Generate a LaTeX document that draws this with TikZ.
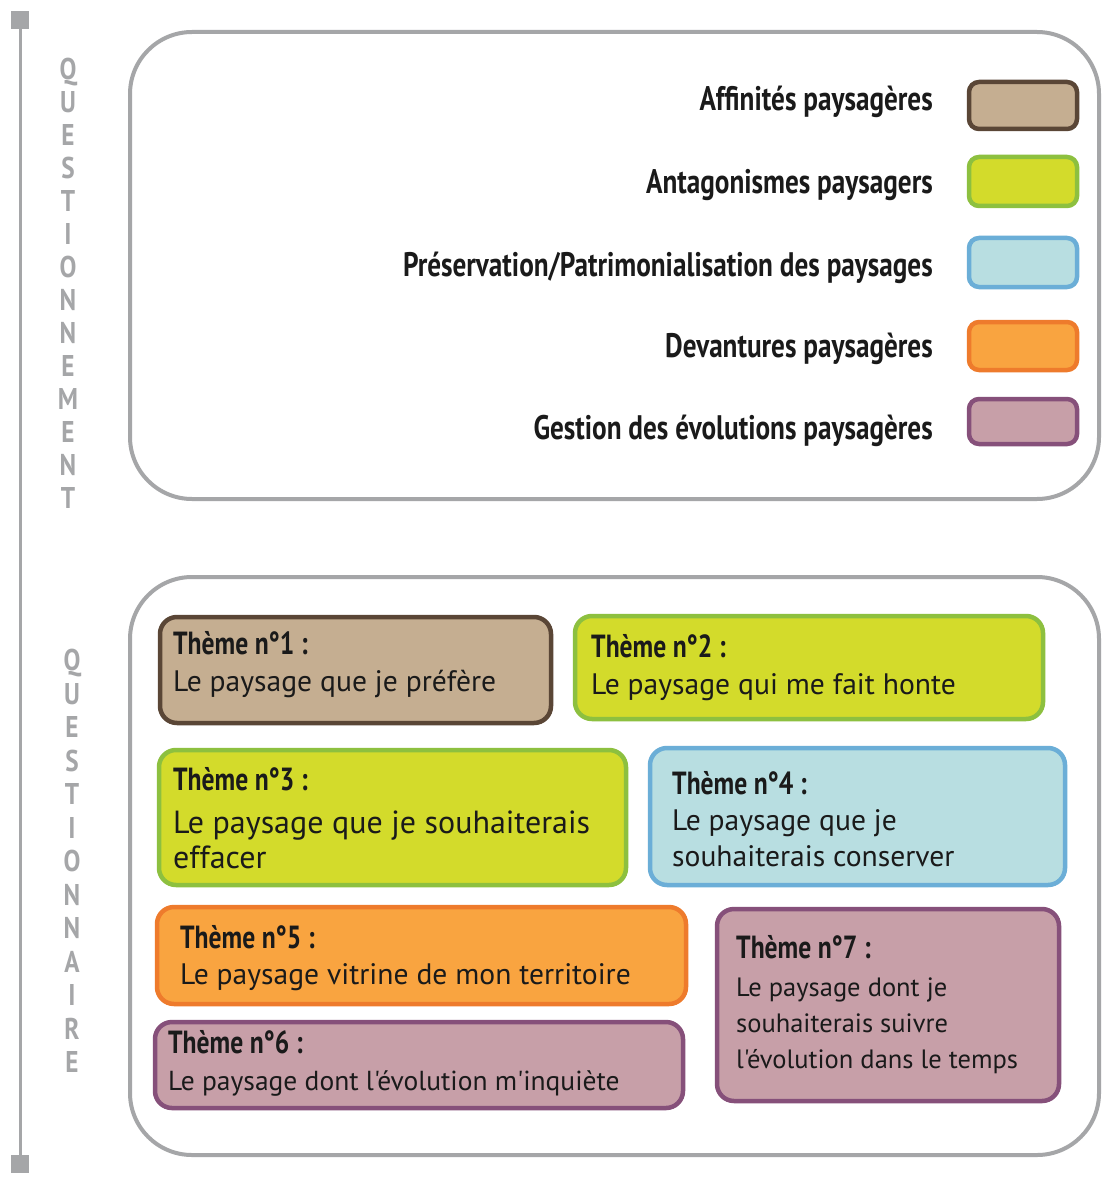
\documentclass[tikz,border=0pt]{standalone}
\usepackage{fontspec}
\setmainfont{PT Sans}
\newfontfamily\bodyf{PT Sans}
\newfontfamily\condf[FakeStretch=0.8]{PT Sans}
\newfontfamily\vletf[FakeStretch=0.84]{PT Sans}
\definecolor{lgray}{HTML}{A5A6A8}
\definecolor{brnF}{HTML}{C5AE91}
\definecolor{brnD}{HTML}{5A4636}
\definecolor{grnF}{HTML}{D3DB2B}
\definecolor{grnD}{HTML}{8DC03F}
\definecolor{bluF}{HTML}{B8DEE1}
\definecolor{bluD}{HTML}{6BAED7}
\definecolor{orgF}{HTML}{F9A440}
\definecolor{orgD}{HTML}{EE7B2C}
\definecolor{purF}{HTML}{C79FA8}
\definecolor{purD}{HTML}{86507A}
\definecolor{txt}{HTML}{1A1A1A}
\tikzset{
  outerbox/.style={rectangle, draw=lgray, line width=4pt, rounded corners=62pt, inner sep=0},
  tbox/.style={rectangle, rounded corners=17pt, line width=4.5pt, inner sep=0},
  swatch/.style={rectangle, rounded corners=10pt, line width=4.5pt, inner sep=0, minimum width=108pt},
  sqr/.style={rectangle, fill=lgray, minimum size=18pt, inner sep=0},
  vlet/.style={text=lgray, font=\vletf\bfseries\fontsize{30}{30}\selectfont, text height=21pt, text depth=0pt, inner sep=0},
  legtxt/.style={anchor=base east, inner sep=0, text=txt, font=\condf\bfseries\fontsize{34}{34}\selectfont},
  head/.style={anchor=base west, inner sep=0, text=txt, font=\condf\bfseries\fontsize{32}{32}\selectfont},
  body/.style={anchor=base west, inner sep=0, text=txt, font=\bodyf\fontsize{29.6}{29.6}\selectfont},
  bigbody/.style={anchor=base west, inner sep=0, text=txt, font=\bodyf\fontsize{32}{32}\selectfont},
  sixbody/.style={anchor=base west, inner sep=0, text=txt, font=\bodyf\fontsize{27.5}{27.5}\selectfont},
  sevbody/.style={anchor=base west, inner sep=0, text=txt, font=\bodyf\fontsize{26.5}{26.5}\selectfont}
}
\begin{document}
\begin{tikzpicture}[x=1pt,y=-1pt]
\fill[white] (0,0) rectangle (1103,1182);
\useasboundingbox (0,0) rectangle (1103,1182);
% left axis
\node[sqr] (sqtop) at (20,20) {};
\node[sqr] (sqbot) at (20,1164) {};
\draw[lgray, line width=3pt] (sqtop) -- (sqbot);
\foreach \l [count=\i] in {Q,U,E,S,T,I,O,N,N,E,M,E,N,T}
  \node[vlet] (qm\i) at (68, {69+33*(\i-1)}) {\l};
\foreach \l [count=\i] in {Q,U,E,S,T,I,O,N,N,A,I,R,E}
  \node[vlet] (qr\i) at (72, {660+33.5*(\i-1)}) {\l};
% outer boxes
\node[outerbox, minimum width=969pt, minimum height=467pt] (top) at (614.5,265.5) {};
\node[outerbox, minimum width=969pt, minimum height=578pt] (bot) at (614.5,866) {};
% legend
\node[legtxt] (l1) at (933,111) {Affinités paysagères};
\node[legtxt] (l2) at (933,194) {Antagonismes paysagers};
\node[legtxt] (l3) at (933,276) {Préservation/Patrimonialisation des paysages};
\node[legtxt] (l4) at (933,357) {Devantures paysagères};
\node[legtxt] (l5) at (933,439) {Gestion des évolutions paysagères};
\node[swatch, draw=brnD, fill=brnF, minimum height=47pt] (s1) at (1023,105.5) {};
\node[swatch, draw=grnD, fill=grnF, minimum height=49pt] (s2) at (1023,181.5) {};
\node[swatch, draw=bluD, fill=bluF, minimum height=49pt] (s3) at (1023,262.5) {};
\node[swatch, draw=orgD, fill=orgF, minimum height=48pt] (s4) at (1023,346) {};
\node[swatch, draw=purD, fill=purF, minimum height=45pt] (s5) at (1023,421.5) {};
% theme boxes
\node[tbox, draw=brnD, fill=brnF, minimum width=391pt, minimum height=106pt] (t1) at (355.5,670) {};
\node[tbox, draw=grnD, fill=grnF, minimum width=468pt, minimum height=103pt] (t2) at (809,667.5) {};
\node[tbox, draw=grnD, fill=grnF, minimum width=467pt, minimum height=135pt] (t3) at (392.5,817.5) {};
\node[tbox, draw=bluD, fill=bluF, minimum width=415pt, minimum height=137pt] (t4) at (857.5,816.5) {};
\node[tbox, draw=orgD, fill=orgF, minimum width=529pt, minimum height=97pt] (t5) at (421.5,955.5) {};
\node[tbox, draw=purD, fill=purF, minimum width=528pt, minimum height=86pt] (t6) at (419,1065) {};
\node[tbox, draw=purD, fill=purF, minimum width=342pt, minimum height=192pt] (t7) at (888,1005) {};
% theme texts
\node[head] (h1) at (173,654) {Thème n°1 :};
\node[body] (b1) at (173,691) {Le paysage que je préfère};
\node[head] (h2) at (591,657) {Thème n°2 :};
\node[body] (b2) at (591,694) {Le paysage qui me fait honte};
\node[head] (h3) at (173,790) {Thème n°3 :};
\node[bigbody] (b3a) at (173,833) {Le paysage que je souhaiterais};
\node[bigbody] (b3b) at (173,868) {effacer};
\node[head] (h4) at (672,794) {Thème n°4 :};
\node[body] (b4a) at (672,830) {Le paysage que je};
\node[body] (b4b) at (672,866) {souhaiterais conserver};
\node[head] (h5) at (180,948) {Thème n°5 :};
\node[body] (b5) at (180,984) {Le paysage vitrine de mon territoire};
\node[head] (h6) at (168,1053) {Thème n°6 :};
\node[sixbody] (b6) at (168,1090) {Le paysage dont l'évolution m'inquiète};
\node[head] (h7) at (736,958) {Thème n°7 :};
\node[sevbody] (b7a) at (736,996) {Le paysage dont je};
\node[sevbody] (b7b) at (736,1032) {souhaiterais suivre};
\node[sevbody] (b7c) at (736,1068) {l'évolution dans le temps};
\end{tikzpicture}
\end{document}
